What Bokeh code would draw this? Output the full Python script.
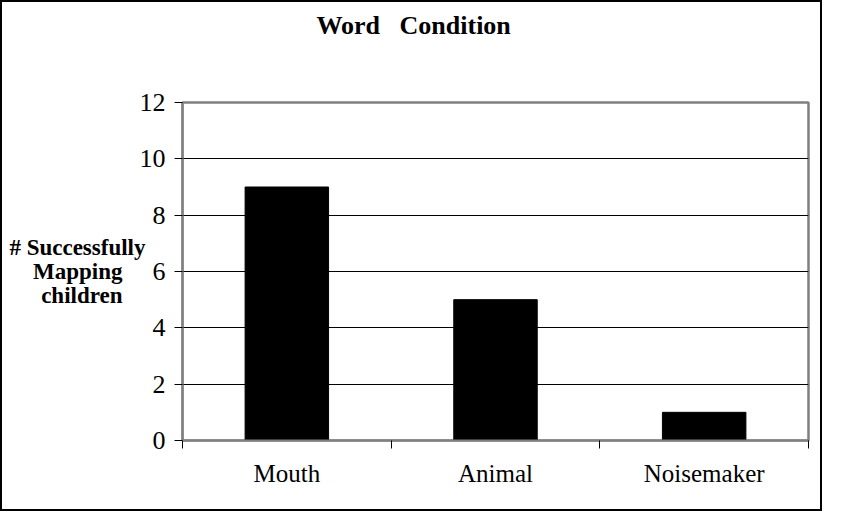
from bokeh.plotting import figure
from bokeh.models import FixedTicker, Range1d, LinearAxis
from bokeh.embed import file_html
from bokeh.resources import INLINE

categories = ["Mouth", "Animal", "Noisemaker"]
values = [9, 5, 1]
y_ticks = [0, 2, 4, 6, 8, 10, 12]
title_text = "Word\u00a0\u00a0\u00a0Condition"
ylabel_lines = ["# Successfully", "Mapping", "children"]

FONT = "Liberation Serif"
NB = "\u00a0"

n = len(categories)
centers = [i + 0.5 for i in range(n)]
bounds = [float(i) for i in range(n + 1)]

p = figure(width=822, height=511, output_backend="svg", toolbar_location=None,
           x_range=Range1d(0, n), y_range=Range1d(0, 12),
           min_border_left=180, min_border_right=16, min_border_top=100,
           min_border_bottom=73)
p.styles = {"border": "2px solid black"}
p.background_fill_color = "white"
p.border_fill_color = "white"
p.outline_line_color = "#808080"
p.outline_line_width = 2.5

xa = p.below[0]
ya = p.left[0]

p.vbar(x=centers, top=values, width=0.4, fill_color="black", line_color="black")

# invisible spacer between plot area and title
spacer = LinearAxis(ticker=FixedTicker(ticks=[bounds[0]]), major_tick_out=59,
                    major_tick_in=0, major_label_standoff=0,
                    major_label_overrides={bounds[0]: ""},
                    major_label_text_font_size="1px",
                    axis_line_color=None, major_tick_line_color=None,
                    minor_tick_line_color=None, major_label_text_color=None)
p.add_layout(spacer, "above")

# title
p.title.text = title_text
p.title.text_font = FONT
p.title.text_font_size = "26px"
p.title.text_font_style = "bold"
p.title.text_color = "black"
p.title.align = "left"
p.title.offset = 134
p.title.vertical_align = "bottom"
p.title.standoff = 8

# grid
p.xgrid.visible = False
p.ygrid.ticker = FixedTicker(ticks=y_ticks)
p.ygrid.grid_line_color = "black"
p.ygrid.grid_line_width = 1

# y axis
ya.ticker = FixedTicker(ticks=y_ticks)
ya.axis_line_color = "#808080"
ya.axis_line_width = 2
ya.major_tick_in = 0
ya.major_tick_out = 8
ya.major_tick_line_color = "black"
ya.minor_tick_line_color = None
ya.major_label_text_font = FONT
ya.major_label_text_font_size = "26px"
ya.major_label_text_color = "black"
ya.major_label_standoff = 9
# lines centred under each other (axis labels are right-aligned, pad shorter lines)
ya.axis_label = "\n".join([ylabel_lines[0],
                           ylabel_lines[1] + NB * 4,
                           ylabel_lines[2] + NB * 4])
ya.axis_label_text_font = FONT
ya.axis_label_text_font_size = "23px"
ya.axis_label_text_font_style = "bold"
ya.axis_label_text_color = "black"
ya.axis_label_text_align = "center"
ya.axis_label_text_line_height = 0.95
ya.axis_label_standoff = -9
if "axis_label_orientation" in ya.properties():
    ya.axis_label_orientation = "horizontal"

# x axis
xa.ticker = FixedTicker(ticks=centers, minor_ticks=bounds)
xa.major_label_overrides = {c: lab for c, lab in zip(centers, categories)}
xa.axis_line_color = "#808080"
xa.axis_line_width = 2
xa.major_tick_in = 0
xa.major_tick_out = 0
xa.minor_tick_in = 0
xa.minor_tick_out = 8
xa.minor_tick_line_color = "black"
xa.major_label_text_font = FONT
xa.major_label_text_font_size = "25px"
xa.major_label_text_color = "black"
xa.major_label_standoff = 11

open("out.html", "w").write(file_html(p, INLINE))
